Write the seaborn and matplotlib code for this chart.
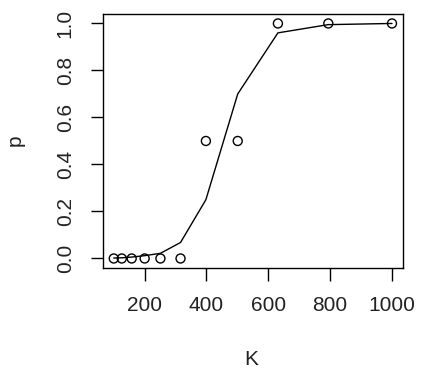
import matplotlib
matplotlib.use("Agg")
import matplotlib.pyplot as plt
import seaborn as sns
import pandas as pd

# observed proportions and fitted curve
K = [100, 126, 158, 200, 251, 316, 398, 501, 631, 794, 1000]
p_obs = [0, 0, 0, 0, 0, 0, 0.5, 0.5, 1, 1, 1]
p_fit = [0.002, 0.003, 0.006, 0.012, 0.022, 0.068, 0.25, 0.70, 0.96, 0.995, 1.0]

x_ticks = [200, 400, 600, 800, 1000]
y_ticks = [0.0, 0.2, 0.4, 0.6, 0.8, 1.0]

df = pd.DataFrame({"K": K, "p": p_obs, "fit": p_fit})

sns.set_theme(style="ticks")
plt.rcParams["font.family"] = ["Liberation Sans", "DejaVu Sans"]

fig = plt.figure(figsize=(4.33, 3.70), dpi=100)
ax = fig.add_axes([0.237, 0.276, 0.694, 0.686])

sns.lineplot(data=df, x="K", y="fit", color="black", linewidth=1, ax=ax)
sns.scatterplot(data=df, x="K", y="p", marker="o", s=42, facecolor="none",
                edgecolor="black", linewidth=1, ax=ax)

ax.set_xlim(64, 1036)
ax.set_ylim(-0.04, 1.04)
ax.set_xticks(x_ticks)
ax.set_yticks(y_ticks)
ax.set_xticklabels([str(t) for t in x_ticks])
ax.set_yticklabels([f"{t:.1f}" for t in y_ticks], rotation=90, va="center")

for s in ax.spines.values():
    s.set_visible(True)
    s.set_color("black")
    s.set_linewidth(1)

ax.tick_params(axis="both", length=9, width=1, color="black",
               labelsize=15, labelcolor="#222222")
ax.tick_params(axis="x", pad=11)
ax.tick_params(axis="y", pad=11)

ax.set_xlabel("K", fontsize=15, color="#222222")
ax.set_ylabel("p", fontsize=15, color="#222222")
ax.xaxis.set_label_coords(0.496, -0.325)
ax.yaxis.set_label_coords(-0.258, 0.504)

fig.savefig("out.png", dpi=100)
